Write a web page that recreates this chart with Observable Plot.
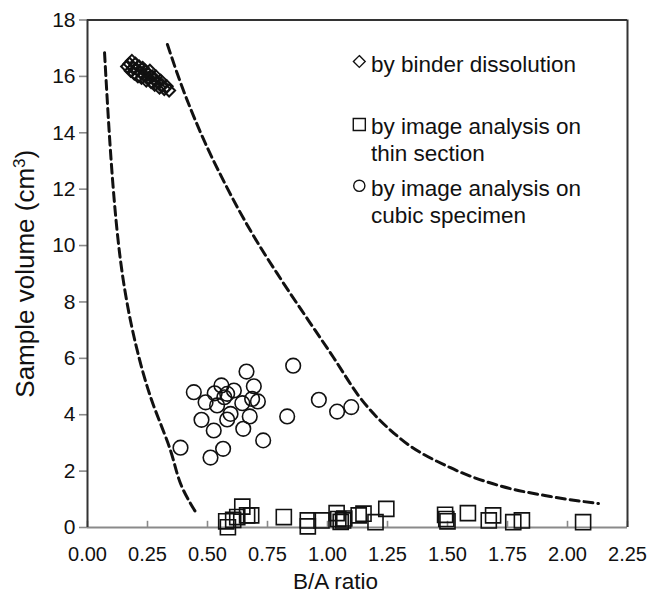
<!DOCTYPE html>
<html>
<head>
<meta charset="utf-8">
<script src="https://cdn.jsdelivr.net/npm/d3@7"></script>
<script src="https://cdn.jsdelivr.net/npm/@observablehq/plot@0.6"></script>
<style>
  html, body { margin: 0; padding: 0; background: #fff; }
  #chart svg { display: block; }
</style>
</head>
<body>
<div id="chart"></div>
<script>
// ---------- data ----------
const xTicks = [0, 0.25, 0.5, 0.75, 1.0, 1.25, 1.5, 1.75, 2.0, 2.25];
const yTicks = [0, 2, 4, 6, 8, 10, 12, 14, 16, 18];

const xTitle = "B/A ratio";
const yTitleMain = "Sample volume (cm";
const yTitleSup = "3";
const yTitleEnd = ")";

const legendLabels = [
  ["by binder dissolution"],
  ["by image analysis on", "thin section"],
  ["by image analysis on", "cubic specimen"]
];

// by binder dissolution (diamonds)
const diamondX = [0.165, 0.175, 0.18, 0.185, 0.19, 0.195, 0.20, 0.205, 0.21, 0.215, 0.22, 0.225, 0.23, 0.235, 0.24, 0.245, 0.25, 0.255, 0.26, 0.265, 0.27, 0.275, 0.28, 0.285, 0.29, 0.30, 0.305, 0.31, 0.32, 0.33, 0.34];
const diamondY = [16.35, 16.45, 16.20, 16.55, 16.30, 16.10, 16.45, 16.25, 16.00, 16.35, 16.15, 15.95, 16.30, 16.05, 16.20, 15.85, 16.10, 15.95, 16.20, 15.80, 16.00, 15.90, 15.70, 16.00, 15.80, 15.60, 15.85, 15.70, 15.55, 15.65, 15.50];

// by image analysis on thin section (squares)
const squareX = [0.578, 0.585, 0.607, 0.624, 0.645, 0.665, 0.682, 0.818, 0.918, 0.918, 0.975, 1.038, 1.045, 1.055, 1.065, 1.07, 1.13, 1.15, 1.20, 1.245, 1.49, 1.495, 1.50, 1.585, 1.672, 1.69, 1.774, 1.81, 2.065];
const squareY = [0.22, 0.01, 0.27, 0.37, 0.74, 0.43, 0.43, 0.37, 0.25, 0.04, 0.25, 0.51, 0.30, 0.20, 0.25, 0.32, 0.43, 0.49, 0.19, 0.66, 0.45, 0.30, 0.22, 0.51, 0.25, 0.43, 0.19, 0.25, 0.19];

// by image analysis on cubic specimen (circles)
const circleX = [0.6625, 0.857, 0.558, 0.61, 0.443, 0.53, 0.693, 0.582, 0.57, 0.492, 0.54, 0.645, 0.686, 0.71, 0.964, 1.04, 1.099, 0.475, 0.582, 0.596, 0.676, 0.832, 0.526, 0.649, 0.732, 0.3875, 0.565, 0.5125];
const circleY = [5.53, 5.74, 5.04, 4.86, 4.80, 4.76, 5.01, 4.74, 4.62, 4.44, 4.33, 4.41, 4.56, 4.47, 4.53, 4.11, 4.27, 3.82, 3.83, 4.03, 3.94, 3.94, 3.44, 3.50, 3.09, 2.83, 2.79, 2.48];

// dashed boundary curves
const lowerCurveX = [0.071, 0.0875, 0.108, 0.1375, 0.179, 0.229, 0.283, 0.346, 0.3875, 0.454];
const lowerCurveY = [16.84, 14.43, 11.95, 9.47, 7.34, 5.57, 4.15, 2.73, 1.56, 0.50];
const upperCurveX = [0.333, 0.3875, 0.471, 0.575, 0.679, 0.804, 0.921, 1.025, 1.129, 1.304, 1.5125, 1.721, 1.929, 2.129];
const upperCurveY = [17.13, 15.78, 14.01, 12.16, 10.53, 8.83, 7.34, 6.03, 4.68, 3.15, 2.12, 1.47, 1.10, 0.85];

// ---------- build ----------
const zip = (xs, ys) => xs.map((x, i) => ({x, y: ys[i]}));
const diamonds = zip(diamondX, diamondY);
const squares = zip(squareX, squareY);
const circles = zip(circleX, circleY);
const lowerCurve = zip(lowerCurveX, lowerCurveY);
const upperCurve = zip(upperCurveX, upperCurveY);

const W = 648, H = 598;
const mL = 87, mR = 21, mT = 19.5, mB = 71;
const ink = "#111";
const font = "'Liberation Sans', Arial, sans-serif";

// legend layout (pixels relative to top-left of the frame)
const legSymX = 358.8 - mL;
const legTextX = 370.5 - mL;
const legendSymbols = ["diamond2", "square", "circle"];
const legendSymR = [5.3, 6.8, 5.6];
const legendSymY = [61, 124, 185.3].map(v => v - mT);
const legendLineY = [[63.8], [126.5, 153.2], [188.5, 215.2]].map(a => a.map(v => v - mT));

const legendMarks = [];
legendSymbols.forEach((s, i) => {
  legendMarks.push(Plot.dot([0], {frameAnchor: "top-left", dx: legSymX, dy: legendSymY[i], symbol: s, r: legendSymR[i], stroke: ink, strokeWidth: 1.4, fill: "none"}));
  legendLabels[i].forEach((t, j) => {
    legendMarks.push(Plot.text([t], {frameAnchor: "top-left", dx: legTextX, dy: legendLineY[i][j], text: d => d, textAnchor: "start", lineAnchor: "middle", fontSize: 22.5, fill: ink}));
  });
});

const yTitleFull = yTitleMain + yTitleSup + yTitleEnd;

const chart = Plot.plot({
  width: W, height: H,
  marginLeft: mL, marginRight: mR, marginTop: mT, marginBottom: mB,
  style: {fontFamily: font, background: "#fff", color: ink},
  x: {domain: [0, 2.25], axis: null},
  y: {domain: [0, 18], axis: null},
  marks: [
    // axes
    Plot.axisY(yTicks, {anchor: "left", tickSize: 8, tickPadding: 4, fontSize: 21, stroke: "#8a8a8a", strokeWidth: 1.6, fill: ink, label: null, tickFormat: d => String(d)}),
    Plot.axisX(xTicks, {anchor: "bottom", tickSize: 0, tickPadding: 19, fontSize: 20, fill: ink, label: null, tickFormat: d => d.toFixed(2)}),
    Plot.ruleX(xTicks, {x: d => d, y1: 0, y2: 0.22, stroke: "#8a8a8a", strokeWidth: 1.6}),
    Plot.ruleY([0], {stroke: "#8a8a8a", strokeWidth: 2}),
    Plot.ruleX([0], {stroke: "#333", strokeWidth: 2}),
    Plot.ruleY([18], {stroke: "#333", strokeWidth: 2}),
    Plot.ruleX([2.25], {stroke: "#333", strokeWidth: 2}),
    // titles
    Plot.text([xTitle], {frameAnchor: "bottom-left", dx: 335 - mL, dy: 54, text: d => d, textAnchor: "middle", lineAnchor: "middle", fontSize: 22.5, fill: ink}),
    Plot.text([yTitleFull], {frameAnchor: "left", dx: 25 - mL, text: d => d, rotate: -90, textAnchor: "middle", lineAnchor: "middle", fontSize: 26, fill: ink}),
    // curves
    Plot.line(lowerCurve, {x: "x", y: "y", curve: "natural", stroke: ink, strokeWidth: 3, strokeDasharray: "9,5"}),
    Plot.line(upperCurve, {x: "x", y: "y", curve: "monotone-x", stroke: ink, strokeWidth: 3, strokeDasharray: "9,5"}),
    // data
    Plot.dot(diamonds, {x: "x", y: "y", symbol: "diamond2", r: 5.4, stroke: ink, strokeWidth: 2, fill: "none"}),
    Plot.dot(squares, {x: "x", y: "y", symbol: "square", r: 8.5, stroke: ink, strokeWidth: 1.6, fill: "none"}),
    Plot.dot(circles, {x: "x", y: "y", r: 7.3, stroke: ink, strokeWidth: 1.6, fill: "none"}),
    ...legendMarks
  ]
});

// turn the "3" of cm3 into a real superscript
d3.select(chart).selectAll("text").filter(function() { return this.textContent === yTitleFull; })
  .each(function() {
    const t = d3.select(this);
    t.text(null);
    t.append("tspan").text(yTitleMain);
    t.append("tspan").attr("baseline-shift", "super").attr("font-size", "17px").text(yTitleSup);
    t.append("tspan").text(yTitleEnd);
  });

document.getElementById("chart").appendChild(chart);
</script>
</body>
</html>
